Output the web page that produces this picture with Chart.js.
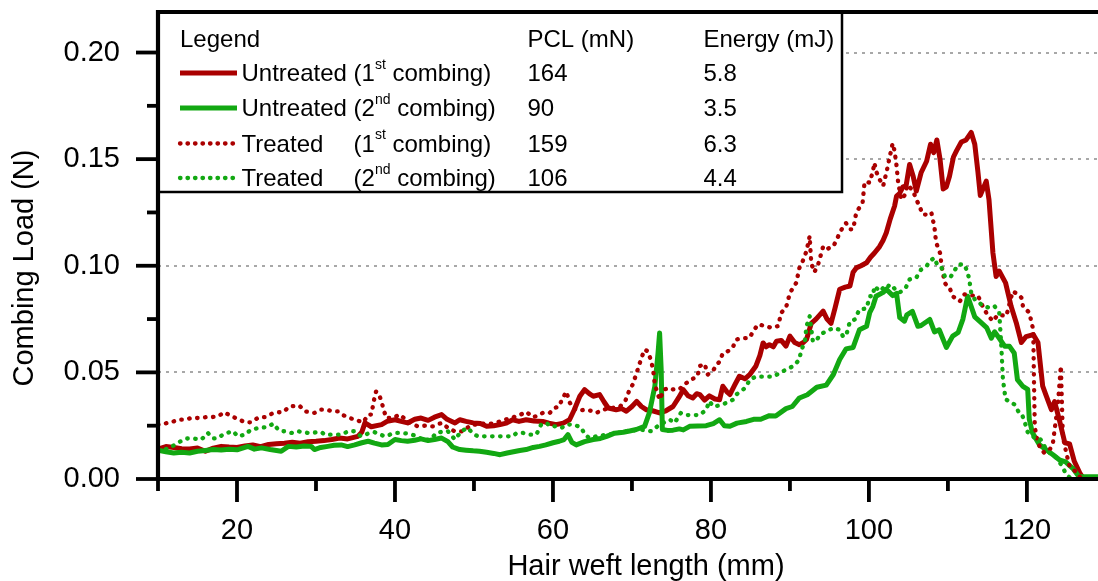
<!DOCTYPE html>
<html>
<head>
<meta charset="utf-8">
<title>Combing load vs hair weft length</title>
<script src="https://cdn.jsdelivr.net/npm/chart.js@4/dist/chart.umd.min.js"></script>
<style>
  html, body { margin: 0; padding: 0; background: #fff; }
  #wrap { width: 1098px; height: 581px; }
</style>
</head>
<body>
<div id="wrap"><canvas id="c" width="1098" height="581"></canvas></div>
<script>
// ---- axis ticks ----
const xMajorTicks = [20, 40, 60, 80, 100, 120];
const xMinorTicks = [10, 30, 50, 70, 90, 110];
const yMajorTicks = [0, 0.05, 0.10, 0.15, 0.20];
const yMinorTicks = [0.025, 0.075, 0.125, 0.175];

// ---- legend table ----
const tableHeaders = ['Legend', 'PCL (mN)', 'Energy (mJ)'];
const legendLabels = ['Untreated', 'Untreated', 'Treated', 'Treated'];
const combingNumber = ['1', '2', '1', '2'];
const combingSuffix = ['st', 'nd', 'st', 'nd'];
const pclValues = [164, 90, 159, 106];
const energyValues = [5.8, 3.5, 6.3, 4.4];

// ---- measured curves: [length (mm), load (N)] ----
const untreated1st = [
  [10,0.014],[11,0.0152],[12,0.0148],[13,0.0142],[14,0.0141],[15,0.0145],[16,0.013],[17,0.0145],[18,0.0153],[19,0.015],
  [20,0.0148],[21,0.0155],[22,0.016],[23,0.0152],[24,0.0162],[25,0.0165],[26,0.0168],[27,0.0172],[28,0.0168],[29,0.0175],
  [30,0.0177],[31,0.018],[32,0.0185],[33,0.0192],[34,0.0188],[35.3,0.020],[35.8,0.022],[36.2,0.0263],[37,0.0245],[38.3,0.0255],
  [39,0.027],[40,0.0278],[40.8,0.027],[41.6,0.0263],[42.5,0.028],[43.3,0.0286],[44.2,0.0275],[45,0.029],[45.9,0.0302],[46.6,0.028],
  [47.6,0.0263],[48.2,0.0278],[49,0.027],[49.9,0.0263],[50.8,0.026],[51.6,0.0247],[52.5,0.025],[53.3,0.0255],[54.1,0.0262],[54.9,0.0278],
  [55.7,0.027],[56.6,0.0278],[57.6,0.0272],[58.7,0.027],[59.5,0.0262],[60.4,0.0255],[61.3,0.0262],[62.1,0.0278],[62.7,0.0325],[63.4,0.0388],
  [64,0.0419],[64.6,0.040],[65.1,0.0388],[65.9,0.0396],[66.5,0.036],[67,0.0333],[68,0.0325],[68.7,0.033],[69.3,0.0318],[70,0.034],
  [70.6,0.0364],[71.2,0.034],[71.8,0.0325],[72.6,0.032],[73.5,0.031],[74.3,0.032],[75.2,0.034],[75.9,0.038],[76.5,0.0419],[77.1,0.039],
  [77.7,0.038],[78.2,0.040],[78.6,0.0396],[79.2,0.037],[79.8,0.039],[80.5,0.0375],[81.1,0.0372],[81.5,0.0435],[82,0.041],[82.4,0.0396],
  [83,0.044],[83.6,0.0482],[84.3,0.047],[84.9,0.0489],[85.7,0.053],[86.2,0.058],[86.6,0.0638],[87,0.062],[87.4,0.063],[87.9,0.062],
  [88.3,0.0646],[88.9,0.065],[89.5,0.0623],[90,0.067],[90.6,0.064],[91.2,0.063],[91.7,0.064],[92.1,0.0654],[92.7,0.073],[93.3,0.075],
  [94.2,0.0787],[94.7,0.075],[95.2,0.073],[95.7,0.080],[96.3,0.089],[97,0.090],[97.6,0.0905],[98,0.097],[98.4,0.099],[99,0.100],
  [99.7,0.1014],[100.2,0.104],[100.7,0.106],[101.35,0.109],[101.8,0.112],[102.2,0.1155],[102.7,0.122],[103.25,0.128],[103.5,0.1327],[103.9,0.134],
  [104.3,0.137],[104.7,0.1374],[105.15,0.1475],[105.6,0.142],[106,0.135],[106.6,0.1436],[107.3,0.149],[107.8,0.157],[108.2,0.153],[108.6,0.159],
  [109,0.150],[109.4,0.136],[109.8,0.137],[110.2,0.142],[110.7,0.151],[111.1,0.154],[111.7,0.158],[112.3,0.159],[112.95,0.1625],[113.4,0.157],
  [113.8,0.144],[114.1,0.133],[114.85,0.1397],[115.2,0.131],[115.7,0.106],[116.1,0.095],[116.5,0.0975],[117.3,0.092],[118,0.081],[118.65,0.0733],
  [119.3,0.064],[119.9,0.0668],[120.8,0.0677],[121.4,0.064],[122,0.0435],[122.45,0.039],[123.1,0.0325],[123.5,0.0363],[124.1,0.0278],[124.8,0.017],
  [125.4,0.0165],[126,0.0083],[126.7,0.0028],[127.1,0.0005]
];

const untreated2nd = [
  [10,0.0135],[11,0.0128],[12,0.0122],[13,0.0125],[14,0.0122],[15,0.013],[16,0.0134],[17,0.0138],[18,0.0136],[19,0.014],
  [20,0.0137],[21.4,0.0153],[22.2,0.014],[23.1,0.0146],[24.2,0.0138],[25.6,0.013],[26.5,0.0153],[27.5,0.015],[28.5,0.0155],[29.4,0.0153],
  [29.8,0.0138],[30.6,0.0148],[31.5,0.0153],[32.3,0.0158],[33.2,0.016],[34,0.0152],[34.9,0.016],[35.8,0.017],[36.6,0.0177],[37.4,0.0168],
  [38.3,0.016],[39.1,0.0162],[40,0.0185],[40.8,0.018],[41.6,0.0177],[42.5,0.0182],[43.3,0.0188],[44.2,0.018],[45,0.0185],[45.9,0.0192],
  [46.7,0.0175],[47.3,0.015],[48.2,0.0138],[49,0.0135],[49.9,0.0132],[50.7,0.013],[51.6,0.0125],[52.5,0.012],[53.3,0.0114],[54.2,0.0122],
  [55,0.0128],[55.8,0.0134],[56.6,0.0138],[57.5,0.0148],[58.3,0.0153],[59.1,0.016],[60,0.017],[60.8,0.0177],[61.4,0.0185],[61.9,0.0208],
  [62.4,0.0172],[62.95,0.016],[64,0.0175],[65.1,0.0185],[66,0.019],[66.8,0.020],[67.8,0.0215],[68.9,0.0219],[69.7,0.0225],[70.55,0.0232],
  [71.6,0.0247],[72.2,0.031],[72.9,0.0435],[73.3,0.059],[73.5,0.0685],[73.7,0.0513],[73.85,0.0232],[74.5,0.0228],[75.2,0.0229],[76,0.0235],
  [76.5,0.023],[77.3,0.0247],[78.3,0.0248],[79.4,0.025],[80.3,0.026],[81.1,0.0278],[81.7,0.025],[82.4,0.0247],[83.3,0.0262],[84.5,0.027],
  [85.4,0.028],[86.3,0.028],[87.4,0.0297],[88.2,0.0295],[89.5,0.033],[90.3,0.034],[91.2,0.038],[92.2,0.0395],[93.4,0.043],[94.6,0.044],
  [95.5,0.049],[96.3,0.056],[97.1,0.061],[98,0.0617],[98.8,0.070],[99.7,0.0716],[100.1,0.078],[100.5,0.081],[100.9,0.0857],[101.8,0.0875],
  [102.2,0.089],[103,0.086],[103.5,0.087],[103.9,0.0757],[104.5,0.074],[104.8,0.077],[105.5,0.0786],[106.2,0.0716],[106.6,0.072],[107.7,0.0748],
  [108.3,0.069],[108.9,0.070],[109.8,0.0617],[110.6,0.067],[111.3,0.0687],[111.9,0.075],[112.5,0.0857],[113.4,0.076],[114,0.074],[114.9,0.071],
  [115.5,0.066],[115.9,0.069],[116.5,0.066],[117.2,0.0622],[117.8,0.0622],[118.4,0.059],[118.8,0.0466],[119.5,0.0434],[120.1,0.042],[120.3,0.028],
  [120.7,0.0217],[121.6,0.016],[122.4,0.0138],[123.3,0.0114],[124.1,0.009],[124.9,0.008],[125.8,0.005],[126.6,0.001],[127.5,0.001],[129,0.001]
];

const treated1st = [
  [10,0.0255],[10.8,0.026],[11.7,0.0266],[12.5,0.0278],[13.4,0.0278],[14.2,0.0286],[15.1,0.0286],[16.1,0.029],[16.8,0.029],[17.6,0.0294],
  [18.4,0.0313],[19.3,0.0294],[20.1,0.0282],[21,0.0266],[21.8,0.0266],[22.7,0.0288],[23.5,0.029],[24.1,0.0302],[25,0.0313],[25.8,0.0313],
  [26.7,0.0341],[27.9,0.0344],[28.6,0.0317],[29.8,0.031],[30.5,0.0325],[31.3,0.0325],[32.2,0.0317],[32.8,0.0317],[33.4,0.030],[34.3,0.0286],
  [34.9,0.0278],[36,0.0266],[36.6,0.0302],[37,0.0302],[37.4,0.038],[37.6,0.041],[37.9,0.0404],[38.3,0.0364],[38.5,0.0333],[38.9,0.0286],
  [39.7,0.0286],[40.6,0.0302],[41.4,0.0278],[42.3,0.0255],[42.9,0.0247],[43.8,0.025],[44.8,0.0247],[45.9,0.0263],[46.7,0.024],[47.6,0.0223],
  [48.6,0.0223],[49.5,0.025],[50.1,0.0255],[51.1,0.026],[52.4,0.026],[53.3,0.027],[54.1,0.028],[55,0.029],[55.8,0.030],[56.6,0.0315],
  [57.5,0.029],[58.3,0.030],[58.7,0.031],[59.6,0.031],[60.2,0.0333],[60.8,0.034],[61.1,0.037],[61.7,0.041],[62.1,0.036],[62.6,0.033],
  [63.3,0.032],[64,0.0325],[64.8,0.032],[65.5,0.031],[66.3,0.0325],[67,0.033],[67.8,0.0335],[68.5,0.034],[69.2,0.037],[69.7,0.0419],
  [70.1,0.0443],[70.8,0.0521],[71.2,0.0568],[71.6,0.0607],[72,0.0599],[72.45,0.0552],[72.7,0.0505],[72.9,0.0443],[73.5,0.0372],[74.1,0.042],
  [74.8,0.0427],[75.2,0.042],[76,0.042],[76.5,0.044],[77.3,0.046],[77.7,0.047],[78.3,0.0482],[78.6,0.053],[79.2,0.054],[79.6,0.049],
  [80.3,0.051],[80.8,0.054],[81.1,0.055],[81.5,0.059],[82.2,0.060],[82.8,0.062],[83.2,0.0654],[84,0.066],[84.9,0.0662],[85.3,0.069],
  [85.95,0.0725],[86.6,0.072],[87,0.0717],[87.6,0.0709],[88.5,0.0717],[88.9,0.078],[89.5,0.0803],[90,0.0873],[90.8,0.092],[91.2,0.099],
  [91.6,0.102],[92.1,0.1069],[92.5,0.1139],[92.7,0.101],[93.1,0.097],[93.6,0.101],[94.2,0.109],[94.6,0.1077],[95.5,0.1092],[95.9,0.112],
  [96.3,0.1155],[96.7,0.118],[97.1,0.120],[97.6,0.1171],[98,0.1171],[98.4,0.125],[99.2,0.1296],[99.45,0.1393],[100.1,0.139],[100.5,0.1444],
  [100.7,0.1483],[100.9,0.1444],[101.35,0.1405],[101.8,0.1374],[102.2,0.1436],[102.4,0.1468],[102.6,0.1507],[102.8,0.1538],[103,0.1574],[103.25,0.1538],
  [103.5,0.1468],[103.7,0.139],[104.1,0.131],[104.5,0.133],[104.9,0.138],[105.6,0.135],[106,0.131],[106.4,0.128],[106.8,0.124],[107.5,0.124],
  [107.9,0.125],[108.3,0.118],[108.5,0.111],[109,0.106],[109.2,0.100],[109.6,0.092],[109.8,0.091],[110.2,0.0898],[110.6,0.0857],[111.5,0.0833],
  [112.1,0.0866],[112.5,0.0866],[113.2,0.086],[113.8,0.086],[114.4,0.081],[115,0.077],[115.7,0.074],[116.3,0.077],[117.4,0.0765],[118.2,0.088],
  [118.9,0.0866],[119.3,0.085],[119.5,0.081],[120.3,0.078],[120.8,0.070],[120.9,0.045],[121,0.0245],[121.2,0.020],[121.6,0.0153],[122.2,0.0122],
  [122.9,0.0138],[123.3,0.017],[123.5,0.023],[123.9,0.034],[124.1,0.0435],[124.3,0.053],[124.55,0.020],[125,0.012],[125.4,0.006],[126.3,0.003],
  [126.8,0.0005]
];

const treated2nd = [
  [10,0.0138],[10.8,0.0138],[11.5,0.0146],[12.5,0.017],[13.6,0.019],[14.4,0.019],[15.5,0.0185],[16.3,0.0216],[17,0.019],[17.6,0.0192],
  [18.4,0.0213],[19.5,0.0224],[20.1,0.020],[21,0.0208],[21.8,0.0232],[22.9,0.024],[23.9,0.0244],[24.6,0.026],[25.2,0.0232],[25.6,0.0224],
  [26,0.0224],[26.9,0.0216],[27.7,0.0224],[29,0.0216],[30.7,0.022],[31.1,0.0208],[32.4,0.0208],[33.2,0.0208],[34.1,0.0224],[34.9,0.0224],
  [35.7,0.020],[36.6,0.0213],[37.4,0.022],[38.7,0.020],[40,0.0216],[40.8,0.0216],[41.6,0.0213],[42.9,0.020],[43.5,0.0181],[44.6,0.0187],
  [45.2,0.0216],[46.3,0.0224],[46.7,0.0224],[47.6,0.0185],[48.4,0.0224],[49.2,0.024],[49.9,0.0212],[50.5,0.020],[51.6,0.020],[53.3,0.020],
  [54.9,0.020],[55.4,0.0216],[56.2,0.0216],[57,0.0208],[57.9,0.0208],[58.5,0.0255],[59.2,0.0263],[59.6,0.0247],[60.4,0.0247],[61.1,0.024],
  [61.7,0.0255],[62.3,0.0255],[62.7,0.0255],[63.6,0.024],[64,0.021],[64.6,0.0192],[65.5,0.020],[65.9,0.020],[66.8,0.021],[67.6,0.021],
  [68.2,0.0216],[69.1,0.0224],[70.2,0.0228],[71,0.0232],[72.45,0.0224],[73.5,0.0255],[74.8,0.0278],[75.4,0.0263],[76.2,0.031],[76.9,0.030],
  [77.7,0.030],[78.6,0.030],[79.4,0.0325],[79.8,0.0365],[80.3,0.034],[81.1,0.0345],[81.9,0.0356],[82.8,0.0372],[83.2,0.0396],[84.1,0.042],
  [84.5,0.0435],[84.9,0.0466],[85.7,0.048],[86.6,0.048],[87.4,0.048],[87.9,0.048],[88.7,0.0497],[89.5,0.0513],[90.4,0.0529],[90.8,0.0544],
  [91.2,0.056],[91.4,0.0599],[91.9,0.0646],[92.1,0.0716],[92.5,0.0763],[92.9,0.0646],[93.3,0.0646],[93.8,0.0677],[94.6,0.0693],[95.5,0.0708],
  [96.3,0.070],[96.7,0.067],[97.1,0.067],[97.6,0.074],[98.2,0.0748],[98.8,0.0795],[99.7,0.080],[100.1,0.0857],[100.5,0.0857],[100.7,0.0904],
  [101.4,0.088],[101.8,0.0896],[102.2,0.089],[102.6,0.0912],[103,0.0904],[103.5,0.088],[103.9,0.0875],[104.3,0.0885],[104.7,0.090],[105.15,0.0936],
  [106,0.0944],[106.6,0.0982],[107.3,0.0998],[107.7,0.1022],[108.3,0.1037],[108.7,0.0998],[109.2,0.099],[109.6,0.0951],[110,0.0943],[110.4,0.0951],
  [110.8,0.0975],[111.3,0.1006],[112.1,0.1006],[112.5,0.0967],[112.7,0.0936],[112.95,0.0873],[113.4,0.0842],[114,0.0826],[114.4,0.0811],[115.3,0.0803],
  [115.9,0.0811],[116.5,0.078],[116.75,0.063],[116.96,0.047],[117.3,0.0373],[117.8,0.0365],[118.4,0.035],[118.9,0.0318],[119.3,0.031],[119.7,0.027],
  [120.1,0.022],[120.5,0.0208],[121,0.0192],[121.6,0.0192],[122,0.017],[122.45,0.0138],[122.9,0.0122],[123.5,0.011],[124.35,0.0067],[125,0.002],
  [125.5,0.0005]
];

const FONT = '"Liberation Sans", Arial, Helvetica, sans-serif';
const RED = '#AA0000';
const GREEN = '#12A812';
const DOTS = [0.5, 7.5];

Chart.defaults.font.family = FONT;
Chart.defaults.color = '#000';

const toPoints = rows => rows.map(([x, y]) => ({ x, y }));

const solid = (color, rows, order) => ({
  data: toPoints(rows), borderColor: color, borderWidth: 5,
  borderCapStyle: 'butt', borderJoinStyle: 'round', borderDash: [],
  pointRadius: 0, fill: false, tension: 0, order
});
const dotted = (color, rows, order) => ({
  data: toPoints(rows), borderColor: color, borderWidth: 4.3,
  borderCapStyle: 'round', borderJoinStyle: 'round', borderDash: DOTS,
  pointRadius: 0, fill: false, tension: 0, order
});

// later series drawn on top
const datasets = [
  solid(RED, untreated1st, 4),
  solid(GREEN, untreated2nd, 3),
  dotted(RED, treated1st, 2),
  dotted(GREEN, treated2nd, 1)
];

function drawLegendTable(chart) {
  const { ctx, chartArea: a } = chart;
  const box = { left: a.left, top: a.top, right: 842, bottom: 192 };
  ctx.save();
  ctx.fillStyle = '#fff';
  ctx.fillRect(box.left, box.top, box.right - box.left, box.bottom - box.top);
  ctx.strokeStyle = '#000';
  ctx.lineWidth = 2.5;
  ctx.setLineDash([]);
  ctx.strokeRect(box.left, box.top, box.right - box.left, box.bottom - box.top);

  const big = `24px ${FONT}`;
  const small = `14px ${FONT}`;
  const colPcl = 527.5, colEnergy = 703.5, colText = 241.5;
  ctx.fillStyle = '#000';
  ctx.textAlign = 'left';
  ctx.textBaseline = 'alphabetic';
  ctx.font = big;
  ctx.fillText(tableHeaders[0], 180, 47);
  ctx.fillText(tableHeaders[1], colPcl, 47);
  ctx.fillText(tableHeaders[2], colEnergy, 47);

  const openX = colText + ctx.measureText('Untreated ').width;
  const rowBase = [81, 116, 151.5, 186];
  chart.data.datasets.forEach((ds, i) => {
    const b = rowBase[i];
    ctx.save();
    ctx.strokeStyle = ds.borderColor;
    ctx.lineWidth = ds.borderWidth;
    ctx.lineCap = ds.borderCapStyle;
    ctx.setLineDash(ds.borderDash.length ? [0.5, 7] : []);
    ctx.beginPath();
    ctx.moveTo(180, b - 8);
    ctx.lineTo(237, b - 8);
    ctx.stroke();
    ctx.restore();

    ctx.font = big;
    ctx.fillText(legendLabels[i], colText, b);
    const head = '(' + combingNumber[i];
    ctx.fillText(head, openX, b);
    let cx = openX + ctx.measureText(head).width;
    ctx.font = small;
    ctx.fillText(combingSuffix[i], cx, b - 12.5);
    cx += ctx.measureText(combingSuffix[i]).width;
    ctx.font = big;
    ctx.fillText(' combing)', cx, b);
    ctx.fillText(String(pclValues[i]), colPcl, b);
    ctx.fillText(energyValues[i].toFixed(1), colEnergy, b);
  });
  ctx.restore();
}

const framePlugin = {
  id: 'frame',
  beforeDatasetsDraw(chart) {
    const { ctx, chartArea: a, scales: { y } } = chart;
    ctx.save();
    ctx.strokeStyle = '#a8a8a8';
    ctx.lineWidth = 2;
    ctx.setLineDash([3, 5]);
    yMajorTicks.forEach(v => {
      if (v === 0) return;
      const py = Math.round(y.getPixelForValue(v));
      ctx.beginPath();
      ctx.moveTo(a.left, py);
      ctx.lineTo(a.right, py);
      ctx.stroke();
    });
    ctx.restore();
  },
  afterDatasetsDraw(chart) {
    const { ctx, chartArea: a, scales: { x, y } } = chart;
    drawLegendTable(chart);

    ctx.save();
    ctx.strokeStyle = '#000';
    ctx.setLineDash([]);
    ctx.lineCap = 'butt';
    ctx.lineWidth = 3.8;
    const seg = (x1, y1, x2, y2) => { ctx.beginPath(); ctx.moveTo(x1, y1); ctx.lineTo(x2, y2); ctx.stroke(); };
    yMajorTicks.forEach(v => { const p = y.getPixelForValue(v); seg(a.left - 22, p, a.left, p); });
    yMinorTicks.forEach(v => { const p = y.getPixelForValue(v); seg(a.left - 11, p, a.left, p); });
    xMajorTicks.forEach(v => { const p = x.getPixelForValue(v); seg(p, a.bottom, p, a.bottom + 23); });
    xMinorTicks.forEach(v => { const p = x.getPixelForValue(v); seg(p, a.bottom, p, a.bottom + 12); });

    ctx.lineWidth = 4.2;
    ctx.lineJoin = 'miter';
    ctx.beginPath();
    ctx.moveTo(a.right, a.top);
    ctx.lineTo(a.left, a.top);
    ctx.lineTo(a.left, a.bottom);
    ctx.lineTo(a.right, a.bottom);
    ctx.stroke();

    // axis titles
    ctx.fillStyle = '#000';
    ctx.font = `29px ${FONT}`;
    ctx.textAlign = 'center';
    ctx.textBaseline = 'alphabetic';
    ctx.fillText('Hair weft length (mm)', 646, 575);
    ctx.translate(33, 268);
    ctx.rotate(-Math.PI / 2);
    ctx.fillText('Combing Load (N)', 0, 0);
    ctx.restore();
  }
};

new Chart(document.getElementById('c'), {
  type: 'line',
  data: { datasets },
  options: {
    responsive: false,
    animation: false,
    devicePixelRatio: 1,
    events: [],
    layout: { padding: { top: 12, right: 0, bottom: 0, left: 0 } },
    plugins: { legend: { display: false }, tooltip: { enabled: false } },
    scales: {
      x: {
        type: 'linear', min: 10, max: 129,
        grid: { display: false, drawTicks: false },
        border: { display: false },
        ticks: { font: { size: 29, lineHeight: 1 }, color: '#000', padding: 37,
                 maxRotation: 0, autoSkip: false, callback: v => String(v) },
        afterBuildTicks: s => { s.ticks = xMajorTicks.map(v => ({ value: v })); },
        afterFit: s => { s.height = 102; s.paddingLeft = 0; s.paddingRight = 0; }
      },
      y: {
        type: 'linear', min: 0, max: 0.219,
        grid: { display: false, drawTicks: false },
        border: { display: false },
        ticks: { font: { size: 29, lineHeight: 1 }, color: '#000', padding: 38,
                 autoSkip: false, callback: v => v.toFixed(2) },
        afterBuildTicks: s => { s.ticks = yMajorTicks.map(v => ({ value: v })); },
        afterFit: s => { s.width = 158; s.paddingTop = 0; s.paddingBottom = 0; }
      }
    }
  },
  plugins: [framePlugin]
});
</script>
</body>
</html>
